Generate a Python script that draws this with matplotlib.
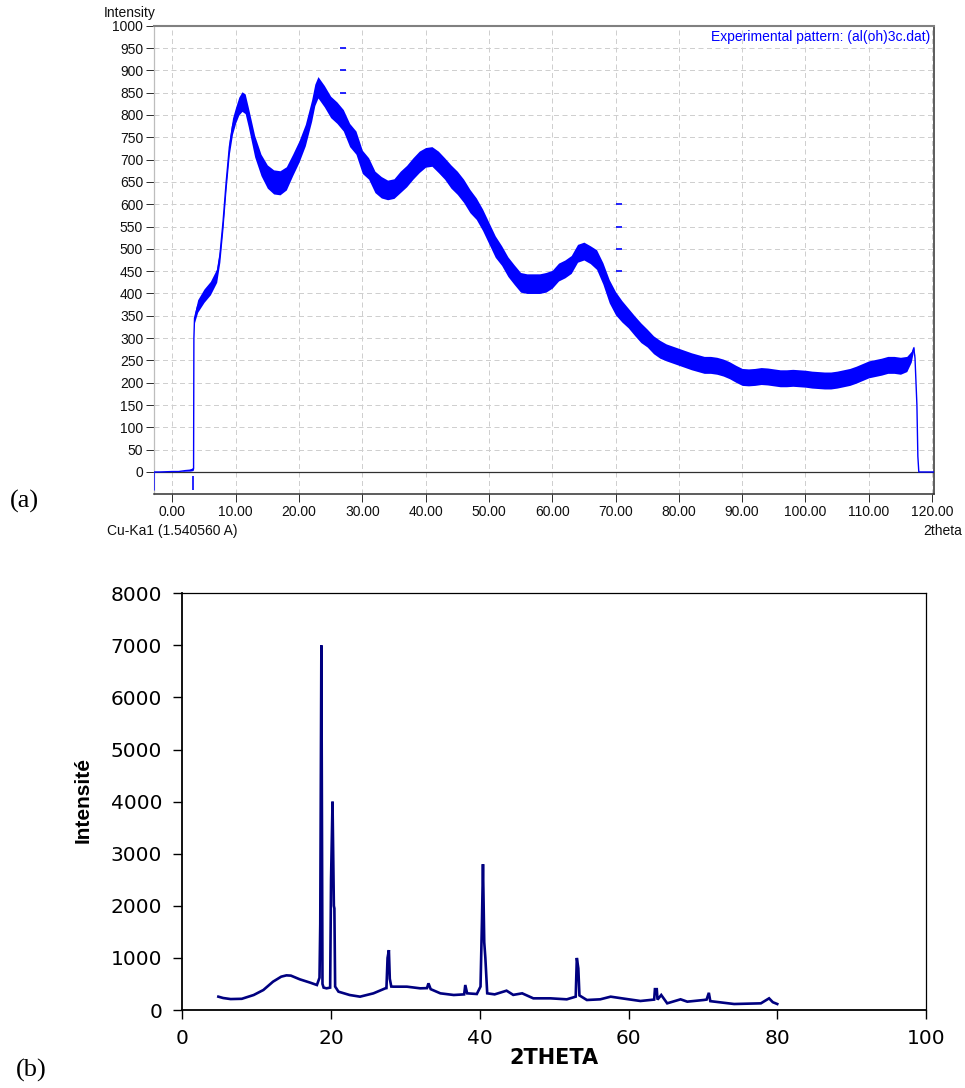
import matplotlib
matplotlib.use("Agg")
import matplotlib.pyplot as plt
from matplotlib import font_manager

plt.rcParams['font.family'] = ['Liberation Sans', 'DejaVu Sans']

# ---------------- pattern (a): amorphous Al(OH)3, 2theta vs counts ----------------
two_theta_a = [-2.9, -2.9, -2.0, 0.0, 1.0, 2.0, 2.8, 3.2, 3.35, 3.4, 3.5, 4, 5, 6, 7, 7.5,
               8, 8.5, 9, 9.5, 10, 10.5, 11, 11.5, 12, 13, 14, 15, 16, 17, 18, 19, 20,
               21, 22, 22.5, 23, 24, 25, 26, 27, 28, 29, 30, 31, 32, 33, 34, 35, 36,
               37, 38, 39, 40, 41, 42, 43, 44, 45, 46, 47, 48, 49, 50, 51, 52, 53, 54,
               55, 56, 57, 58, 59, 60, 61, 62, 63, 64, 65, 66, 67, 68, 69, 70, 71, 72,
               73, 74, 75, 76, 77, 78, 79, 80, 81, 82, 83, 84, 85, 86, 87, 88, 89, 90,
               91, 92, 93, 94, 95, 96, 97, 98, 99, 100, 101, 102, 103, 104, 105, 106,
               107, 108, 109, 110, 111, 112, 113, 114, 115, 116, 116.7, 117.1, 117.3,
               117.6, 117.75, 117.9, 120.3]
intensity_a = [-40, 0, 0, 1, 1, 3, 4, 6, 8, 300, 345, 372, 395, 412, 440, 485,
               560, 650, 728, 775, 800, 820, 830, 825, 795, 730, 688, 662, 650, 648, 658, 688, 718,
               755, 810, 845, 862, 842, 818, 805, 788, 755, 738, 695, 680, 650, 638, 632, 635, 650,
               663, 680, 695, 705, 707, 695, 680, 662, 648, 630, 607, 590, 565, 535, 505, 485, 460, 442,
               425, 422, 422, 422, 425, 432, 448, 455, 465, 490, 495, 487, 476, 445, 405, 378, 360, 345,
               328, 312, 300, 285, 275, 268, 263, 258, 253, 248, 244, 240, 240, 238, 234, 228, 220, 213,
               212, 213, 215, 214, 212, 210, 210, 211, 210, 209, 207, 206, 205, 205, 207, 210,
               213, 218, 224, 230, 233, 236, 240, 240, 238, 242, 258, 278, 255,
               150, 35, 0, 0]
# half width of the counting-noise band around each point
spread_a = [0, 0, 0, 0, 0, 1, 2, 3, 3, 0, 10, 14, 15, 15, 15, 15,
            15, 15, 16, 18, 18, 20, 22, 22, 22, 24, 24, 26, 27, 27, 26, 24, 24,
            24, 24, 24, 24, 24, 24, 24, 24, 26, 26, 26, 24, 24, 24, 22, 22, 24,
            24, 24, 24, 22, 22, 24, 24, 26, 26, 26, 26, 24, 24, 24, 24, 22, 22, 22,
            22, 22, 22, 22, 22, 20, 20, 20, 20, 20, 20, 20, 22, 24, 26, 26, 24, 22,
            22, 22, 20, 20, 20, 19, 19, 19, 19, 19, 19, 19, 19, 19, 19, 19, 19, 19,
            19, 19, 19, 19, 19, 19, 19, 19, 19, 19, 19, 19, 19, 19, 19, 19,
            19, 19, 19, 19, 19, 19, 19, 19, 19, 17, 12, 4, 0,
            0, 0, 0, 0]

# reflection markers of the pattern file
marker_x_a = [27.0, 27.0, 27.0, 70.5, 70.5, 70.5, 70.5]
marker_y_a = [950, 900, 850, 600, 550, 500, 450]
zero_shift_a = 3.3

xticks_a = list(range(0, 121, 10))
yticks_a = list(range(0, 1001, 50))

# ---------------- pattern (b): crystalline sample ----------------
two_theta_b = [4.85, 5.5, 6.5, 8.0, 9.6, 10.9, 12.2, 13.3, 14.0, 14.6, 15.8, 17.2, 18.1, 18.45,
               18.55, 18.7, 18.85, 19.0, 19.4, 19.88, 20.0, 20.2, 20.38, 20.45, 20.55, 21.0,
               22.5, 23.9, 25.7, 27.3, 27.45, 27.6, 27.78, 27.9, 28.1, 28.4, 30.2, 32.0, 32.9,
               33.1, 33.4, 34.7, 36.5, 37.9, 38.05, 38.3, 39.6, 40.1, 40.3, 40.43, 40.6, 40.75,
               41.0, 42.0, 43.6, 44.5, 45.7, 47.2, 49.5, 51.7, 52.9, 53.05, 53.25, 53.4, 54.4,
               56.2, 57.6, 59.4, 61.6, 63.45, 63.55, 63.8, 63.9, 64.4, 65.2, 67.0, 67.9, 70.1,
               70.5, 70.8, 71.0, 74.2, 77.8, 78.9, 79.4, 80.0]
intensity_b = [256, 230, 210, 215, 288, 384, 544, 640, 665, 660, 589, 525, 480, 620,
               1650, 7000, 500, 430, 416, 430, 2500, 4000, 2000, 1950, 450, 352,
               288, 256, 320, 416, 420, 1000, 1150, 600, 450, 448, 448, 416, 420,
               512, 400, 320, 288, 300, 480, 320, 307, 450, 1750, 2800, 1300, 1000,
               320, 300, 371, 290, 320, 224, 224, 205, 256, 1000, 800, 280, 192,
               205, 256, 218, 173, 200, 400, 400, 200, 288, 128, 205, 160, 192,
               200, 330, 170, 115, 128, 224, 150, 115]

xticks_b = list(range(0, 101, 20))
yticks_b = list(range(0, 8001, 1000))

BLUE = '#0000ff'
NAVY = '#000080'
GRID = '#cfcfcf'
DARK = '#303030'

fig = plt.figure(figsize=(9.65, 10.88), dpi=100)

# ---------------- panel (a) ----------------
ax1 = fig.add_axes([0.15959, 0.54568, 0.80829, 0.43070])
ax1.set_xlim(-2.9, 120.3)
ax1.set_ylim(-50, 1000)
ax1.set_xticks(xticks_a)
ax1.set_xticklabels([f"{t:.2f}" for t in xticks_a])
ax1.set_yticks(yticks_a)
ax1.grid(True, color=GRID, linestyle=(0, (5, 3.5)), linewidth=0.72)
ax1.set_axisbelow(True)
ax1.tick_params(direction='out', length=5.8, width=0.72, colors=DARK,
                labelcolor='#101010', labelsize=10, pad=2)
ax1.axhline(0, color=DARK, lw=0.9, zorder=2)

lower_a = [m - s for m, s in zip(intensity_a, spread_a)]
upper_a = [m + s for m, s in zip(intensity_a, spread_a)]
ax1.fill_between(two_theta_a, lower_a, upper_a, color=BLUE, lw=0, zorder=3)
ax1.plot(two_theta_a, intensity_a, color=BLUE, lw=1.0, zorder=4)
ax1.plot(marker_x_a, marker_y_a, linestyle='none', marker='_', markersize=4,
         markeredgewidth=1.2, color=BLUE, zorder=4)
ax1.vlines(zero_shift_a, -40, -10, color=BLUE, lw=1.2, zorder=4)

ax1.spines['top'].set_color('#808080')
ax1.spines['top'].set_linewidth(1.5)
ax1.spines['left'].set_color('#bdbdbd')
ax1.spines['left'].set_linewidth(0.9)
ax1.spines['right'].set_color(DARK)
ax1.spines['right'].set_linewidth(1.1)
ax1.spines['bottom'].set_color(DARK)
ax1.spines['bottom'].set_linewidth(1.1)

ax1.text(0.995, 0.975, "Experimental pattern: (al(oh)3c.dat)", transform=ax1.transAxes,
         ha='right', va='center', color=BLUE, fontsize=10)
fig.text(104 / 965, 1 - 12.5 / 1088, "Intensity", ha='left', va='center', fontsize=10, color='#101010')
fig.text(107 / 965, 1 - 531 / 1088, "Cu-Ka1 (1.540560 A)", ha='left', va='center', fontsize=10,
         color='#101010')
fig.text(962 / 965, 1 - 531 / 1088, "2theta", ha='right', va='center', fontsize=10, color='#101010')
fig.text(24 / 965, 1 - 501 / 1088, "(a)", ha='center', va='center', fontsize=19,
         family='Liberation Serif')

# ---------------- panel (b) ----------------
ax2 = fig.add_axes([0.18891, 0.07169, 0.77067, 0.38300])
ax2.set_xlim(0, 100)
ax2.set_ylim(0, 8000)
ax2.set_xticks(xticks_b)
ax2.set_yticks(yticks_b)
ax2.plot(two_theta_b, intensity_b, color=NAVY, lw=1.9, solid_joinstyle='miter')
ax2.tick_params(direction='out', length=6.5, width=1.0, colors='#000000', labelsize=14.5)
ax2.tick_params(axis='y', pad=8)
ax2.tick_params(axis='x', pad=7)
for lab in ax2.get_xticklabels() + ax2.get_yticklabels():
    lab.set_fontfamily('DejaVu Sans')
for side in ('left', 'bottom'):
    ax2.spines[side].set_linewidth(1.3)
for side in ('top', 'right'):
    ax2.spines[side].set_linewidth(0.9)

names = {f.name for f in font_manager.fontManager.ttflist}
narrow = 'Liberation Sans Narrow' if 'Liberation Sans Narrow' in names else 'Liberation Sans'
fig.text(83 / 965, 1 - 800 / 1088, "Intensité", rotation=90, ha='center', va='center',
         fontsize=15, fontweight='bold', family=narrow)
fig.text(554 / 965, 1 - 1058 / 1088, "2THETA", ha='center', va='center', fontsize=15,
         fontweight='bold', family='DejaVu Sans')
fig.text(31 / 965, 1 - 1070 / 1088, "(b)", ha='center', va='center', fontsize=19,
         family='Liberation Serif')

fig.savefig("out.png", dpi=100)
